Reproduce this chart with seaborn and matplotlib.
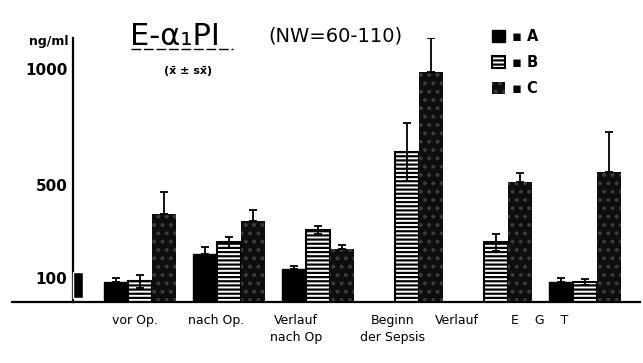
import numpy as np
import pandas as pd
import matplotlib
matplotlib.use("Agg")
import matplotlib.pyplot as plt
from matplotlib.lines import Line2D
import seaborn as sns

# ---- data ----
categories = ["vor Op.", "nach Op.", "Verlauf\nnach Op", "Beginn\nder Sepsis", "Verlauf", "E    G    T"]
groups = ["A", "B", "C"]
mean_A = [82, 203, 138, np.nan, np.nan, 82]
mean_B = [86, 254, 306, 642, 254, 82]
mean_C = [375, 345, 224, 987, 513, 556]
sem_A = [17, 30, 13, np.nan, np.nan, 21]
sem_B = [26, 22, 17, 125, 35, 13]
sem_C = [95, 47, 17, 146, 39, 172]
normal_range = [15, 127]
y_major = [100, 500, 1000]
y_minor = [100, 200, 300, 400, 500, 600, 700, 800, 900, 1000]

means = {"A": mean_A, "B": mean_B, "C": mean_C}
sems = {"A": sem_A, "B": sem_B, "C": sem_C}

rows = []
for g in groups:
    for c, v in zip(categories, means[g]):
        rows.append({"cat": c, "grp": g, "val": v})
df = pd.DataFrame(rows)

sns.set_style("white")
plt.rcParams["font.family"] = ["DejaVu Sans"]
plt.rcParams["hatch.linewidth"] = 1.6
for k in ["text.color", "axes.labelcolor", "xtick.color", "ytick.color", "axes.edgecolor"]:
    plt.rcParams[k] = "black"

W, H = 643, 363
fig = plt.figure(figsize=(W / 100, H / 100), dpi=100)
ax = fig.add_axes([12 / W, (H - 301.5) / H, (640 - 12) / W, (301.5 - 38) / H])

sns.barplot(data=df, x="cat", y="val", hue="grp", order=categories,
            hue_order=groups, width=0.8, errorbar=None, legend=False,
            saturation=1, ax=ax)

styles = {
    "A": dict(facecolor="black", edgecolor="black", hatch=None, linewidth=1.0),
    "B": dict(facecolor="white", edgecolor="black", hatch="----", linewidth=1.5),
    "C": dict(facecolor="#0e0e0e", edgecolor="#3c3c3c", hatch="..", linewidth=0.0),
}

for i, g in enumerate(groups):
    cont = ax.containers[i]
    for p in cont:
        p.set_facecolor(styles[g]["facecolor"])
        p.set_edgecolor(styles[g]["edgecolor"])
        if styles[g]["hatch"]:
            p.set_hatch(styles[g]["hatch"])
        p.set_linewidth(styles[g]["linewidth"])
        h = p.get_height()
        if not np.isfinite(h) or h == 0:
            continue
        cx = p.get_x() + p.get_width() / 2
        k = int(round(cx))
        e = sems[g][k]
        lower = e if g == "B" else 0
        ax.errorbar(cx, h, yerr=[[lower], [e]], fmt="none", ecolor="black",
                    elinewidth=1.3, capsize=3, capthick=1.3, zorder=3)

ax.set_xlim(-1.438, 5.618)
ax.set_ylim(0, 1133)
spine_x = -0.753
ax.spines["left"].set_position(("data", spine_x))
for s in ["top", "right"]:
    ax.spines[s].set_visible(False)
ax.spines["left"].set_linewidth(1.6)
ax.spines["bottom"].set_linewidth(1.6)

# normal-range marker on the axis
ax.bar(spine_x, normal_range[1] - normal_range[0], bottom=normal_range[0],
       width=0.11, align="edge", color="black", zorder=4)

ax.set_yticks(y_major)
ax.set_yticks(y_minor, minor=True)
ax.set_yticklabels([str(v) for v in y_major], fontsize=11, fontweight="bold")
ax.tick_params(axis="y", which="both", direction="in", length=5, width=1.2, pad=4)

label_shift = [-0.06, -0.15, -0.25, -0.16, -0.44, -0.51]
ax.set_xticks(np.arange(len(categories)) + np.array(label_shift))
ax.set_xticklabels(categories, fontsize=9, linespacing=1.35)
ax.tick_params(axis="x", length=0, pad=9)
ax.set_xlabel("")
ax.set_ylabel("")

# legend
leg = ax.legend(ax.containers[:3], ["▪ A", "▪ B", "▪ C"],
                loc="upper left", bbox_to_anchor=(492 / W, 1 - 29 / H),
                bbox_transform=fig.transFigure, frameon=False,
                handlelength=0.9, handleheight=0.9, handletextpad=0.5,
                labelspacing=0.75, borderpad=0, borderaxespad=0,
                prop={"weight": "bold", "size": 10.5})

# texts
fig.text(130 / W, 1 - 45 / H, "E-α₁PI", fontsize=22, ha="left", va="baseline")
fig.text(268 / W, 1 - 41 / H, "(NW=60-110)", fontsize=14, ha="left", va="baseline")
fig.text(188 / W, 1 - 74 / H, "(x̄ ± sx̄)", fontsize=8, ha="center", va="baseline",
         fontweight="bold")
fig.text(68 / W, 1 - 42 / H, "ng/ml", fontsize=9, ha="right", va="center",
         fontweight="bold")
fig.add_artist(Line2D([131 / W, 233 / W], [1 - 49 / H, 1 - 49 / H],
                      transform=fig.transFigure, color="black", lw=1.0,
                      linestyle=(0, (7, 2))))

fig.savefig("out.png", dpi=100)
